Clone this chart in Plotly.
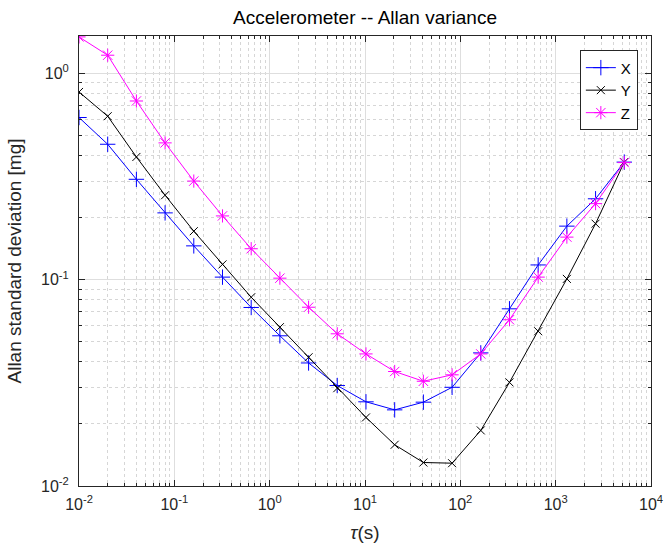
import plotly.graph_objects as go

# ---- data ----
tau = [0.01, 0.02, 0.04, 0.08, 0.16, 0.32, 0.64, 1.28, 2.56, 5.12, 10.24,
       20.48, 40.96, 81.92, 163.84, 327.68, 655.36, 1310.72, 2621.44, 5242.88]

adev_x = [0.612, 0.454, 0.307, 0.211, 0.146, 0.103, 0.0734, 0.0535, 0.0395, 0.0307,
          0.0256, 0.0234, 0.0255, 0.0301, 0.0442, 0.0723, 0.118, 0.182, 0.247, 0.372]
adev_y = [0.814, 0.621, 0.394, 0.257, 0.172, 0.1187, 0.0823, 0.0589, 0.0421, 0.0298,
          0.0215, 0.01585, 0.0130, 0.0129, 0.0186, 0.0318, 0.0563, 0.101, 0.187, 0.372]
adev_z = [1.505, 1.227, 0.736, 0.461, 0.301, 0.204, 0.1414, 0.1018, 0.0736, 0.0547,
          0.0437, 0.0359, 0.0322, 0.0346, 0.0437, 0.0640, 0.103, 0.161, 0.234, 0.370]

series_names = ["X", "Y", "Z"]

x_tickvals = [1e-2, 1e-1, 1e0, 1e1, 1e2, 1e3, 1e4]
x_ticktext = ["10<sup>-2</sup>", "10<sup>-1</sup>", "10<sup>0</sup>", "10<sup>1</sup>",
              "10<sup>2</sup>", "10<sup>3</sup>", "10<sup>4</sup>"]
y_tickvals = [1e-2, 1e-1, 1e0]
y_ticktext = ["10<sup>-2</sup>", "10<sup>-1</sup>", "10<sup>0</sup>"]

# ---- styling ----
FONT = "Liberation Sans, Arial, sans-serif"
AX = "#262626"
colors = ["#0000ff", "#000000", "#ff00ff"]
symbols = ["cross-thin-open", "x-thin-open", "asterisk-open"]
msizes = [11, 8, 11]

fig = go.Figure()
for name, vals, c, s, ms in zip(series_names, [adev_x, adev_y, adev_z], colors, symbols, msizes):
    fig.add_trace(go.Scatter(
        x=tau, y=vals, name=name, mode="lines+markers",
        line=dict(color=c, width=1),
        marker=dict(symbol=s, size=ms, color=c, line=dict(color=c, width=1)),
    ))

x_minor = [m * 10 ** e for e in range(-2, 4) for m in range(2, 10)]
y_minor = [m * 10 ** e for e in range(-2, 1) for m in range(2, 10)]

common = dict(
    type="log", showline=True, linecolor=AX, linewidth=1, mirror="ticks",
    ticks="inside", ticklen=6, tickcolor=AX, tickwidth=1,
    showgrid=True, gridcolor="#dedede", gridwidth=1, zeroline=False,
    tickfont=dict(family=FONT, size=16, color=AX),
)

fig.update_xaxes(
    **common, range=[-2, 4], tickmode="array", tickvals=x_tickvals, ticktext=x_ticktext,
    minor=dict(tickmode="array", tickvals=x_minor, ticks="inside", ticklen=3,
               tickcolor=AX, showgrid=True, gridcolor="#d6d6d6", griddash="dot", gridwidth=1),
    title=dict(text="<i>τ</i>(s)", font=dict(family=FONT, size=19, color=AX), standoff=13),
    ticklabelstandoff=4,
)
fig.update_yaxes(
    **common, range=[-2, 0.182], tickmode="array", tickvals=y_tickvals, ticktext=y_ticktext,
    minor=dict(tickmode="array", tickvals=y_minor, ticks="inside", ticklen=3,
               tickcolor=AX, showgrid=True, gridcolor="#d6d6d6", griddash="dot", gridwidth=1),
    title=dict(text="Allan standard deviation [mg]", font=dict(family=FONT, size=19, color=AX),
               standoff=14),
    ticklabelstandoff=6,
)

fig.update_layout(
    width=669, height=552,
    margin=dict(l=79, r=18, t=36, b=66, autoexpand=False),
    paper_bgcolor="white", plot_bgcolor="white",
    title=dict(text="Accelerometer -- Allan variance", x=0.5, xref="paper",
               y=1 - 17 / 552, yref="container", yanchor="middle", xanchor="center",
               font=dict(family=FONT, size=19, color="#000000")),
    legend=dict(x=0.977, xanchor="right", y=0.968, yanchor="top",
                bgcolor="white", bordercolor=AX, borderwidth=1,
                font=dict(family=FONT, size=15, color="#000000"),
                tracegroupgap=0),
    showlegend=True,
)

fig.write_html("out.html", config={"displayModeBar": False},
               post_script="document.body.style.margin='0';document.body.style.overflow='hidden';")
